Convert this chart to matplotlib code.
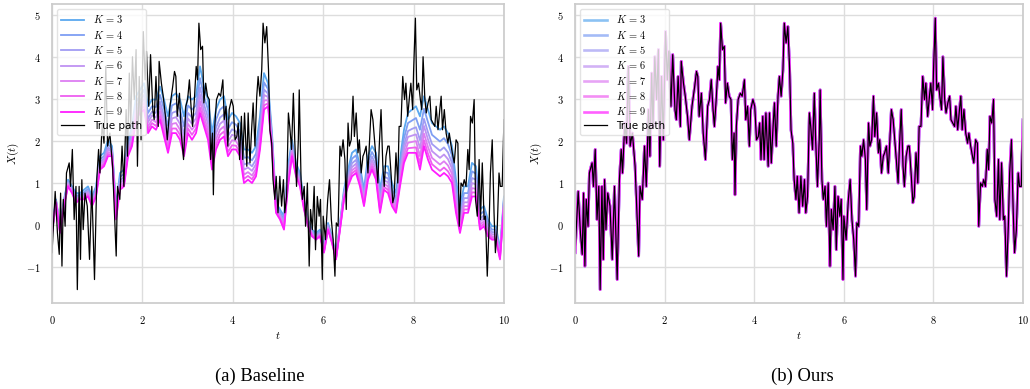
import numpy as np
import matplotlib.pyplot as plt

# true path (shared by both panels)
true_t = [0.00, 0.07, 0.12, 0.16, 0.19, 0.22, 0.25, 0.29, 0.32, 0.38, 0.41, 0.45, 0.49, 0.53, 0.56, 0.60,
          0.63, 0.66, 0.69, 0.73, 0.78, 0.83, 0.88, 0.94, 0.99, 1.03, 1.06, 1.11, 1.15, 1.19, 1.23, 1.28,
          1.34, 1.42, 1.45, 1.50, 1.55, 1.59, 1.64, 1.67, 1.71, 1.74, 1.78, 1.82, 1.86, 1.89, 1.93, 1.97,
          2.02, 2.06, 2.09, 2.14, 2.18, 2.23, 2.26, 2.30, 2.35, 2.37, 2.42, 2.46, 2.51, 2.55, 2.61, 2.67,
          2.71, 2.74, 2.77, 2.82, 2.86, 2.91, 2.96, 3.00, 3.04, 3.08, 3.11, 3.15, 3.19, 3.22, 3.25, 3.29,
          3.33, 3.36, 3.40, 3.44, 3.48, 3.51, 3.55, 3.57, 3.60, 3.64, 3.69, 3.73, 3.78, 3.81, 3.85, 3.89,
          3.92, 3.97, 4.01, 4.05, 4.09, 4.12, 4.15, 4.19, 4.22, 4.26, 4.31, 4.34, 4.38, 4.42, 4.45, 4.49,
          4.53, 4.56, 4.60, 4.64, 4.67, 4.71, 4.75, 4.79, 4.82, 4.86, 4.89, 4.93, 4.96, 5.00, 5.04, 5.08,
          5.12, 5.15, 5.19, 5.23, 5.26, 5.30, 5.34, 5.37, 5.41, 5.45, 5.47, 5.51, 5.54, 5.58, 5.61, 5.65,
          5.69, 5.72, 5.76, 5.80, 5.83, 5.87, 5.91, 5.94, 5.98, 6.00, 6.05, 6.10, 6.14, 6.18, 6.22, 6.26,
          6.29, 6.33, 6.37, 6.40, 6.44, 6.48, 6.51, 6.55, 6.58, 6.62, 6.66, 6.69, 6.73, 6.77, 6.80, 6.84,
          6.88, 6.91, 6.95, 6.99, 7.02, 7.06, 7.10, 7.13, 7.17, 7.21, 7.24, 7.28, 7.32, 7.35, 7.39, 7.43,
          7.46, 7.50, 7.54, 7.57, 7.61, 7.65, 7.68, 7.72, 7.76, 7.80, 7.83, 7.87, 7.91, 7.94, 7.98, 8.00,
          8.04, 8.07, 8.11, 8.15, 8.18, 8.21, 8.25, 8.28, 8.32, 8.36, 8.39, 8.43, 8.47, 8.50, 8.54, 8.58,
          8.61, 8.64, 8.68, 8.72, 8.76, 8.79, 8.83, 8.87, 8.90, 8.94, 8.98, 9.01, 9.05, 9.09, 9.12, 9.16,
          9.20, 9.23, 9.26, 9.30, 9.34, 9.37, 9.41, 9.45, 9.48, 9.52, 9.56, 9.59, 9.63, 9.67, 9.70, 9.74,
          9.78, 9.81, 9.85, 9.89, 9.92, 9.96, 10.0]
true_x = [-0.67, 0.79, -0.2, -0.71, 0.75, -0.99, 0.6, -0.04, 1.23, 1.47, 0.91, 1.79, 0.12, 0.91, -1.55, 0.91,
          -0.83, 1.07, -0.12, 0.75, 0.44, -0.83, 0.91, -1.31, 1.07, 1.79, 1.23, 2.42, 1.94, 3.77, 1.87, 2.18,
          1.39, -0.75, 0.91, 0.6, 1.87, 0.91, 2.74, 1.63, 3.61, 2.34, 4.0, 2.98, 4.17, 1.39, 3.53, 2.02,
          4.6, 3.45, 4.13, 2.82, 4.05, 2.74, 2.5, 3.53, 2.34, 3.89, 3.37, 3.06, 2.58, 2.02, 2.82, 3.29,
          3.65, 3.53, 2.58, 3.13, 2.18, 1.55, 2.82, 2.98, 3.45, 2.74, 2.34, 2.98, 3.77, 3.45, 4.8, 4.17,
          4.25, 2.9, 3.37, 3.06, 2.98, 1.55, 2.18, 0.71, 2.34, 2.98, 3.13, 3.06, 3.45, 2.5, 2.82, 1.87,
          2.74, 2.98, 2.82, 2.02, 2.1, 2.42, 1.55, 2.58, 1.55, 2.66, 1.39, 2.66, 1.47, 2.34, 2.9, 1.87,
          3.06, 3.53, 3.06, 3.69, 4.8, 4.33, 4.72, 3.69, 2.26, 1.94, 1.07, 0.6, 1.15, 0.28, 1.15, 0.44,
          1.07, 0.28, 0.67, 2.66, 2.34, 1.79, 3.13, 2.02, 0.91, 2.02, 3.21, 1.07, 0.6, 0.91, -0.04, 0.99,
          -0.99, 0.36, -0.12, 0.91, -0.6, 0.67, 0.2, 0.6, -1.31, 0.2, -0.36, 0.6, 1.07, 0.12, -0.36, -1.23,
          0.04, -0.04, 1.87, 1.63, 2.02, 1.55, 0.36, 2.42, 1.87, 2.02, 3.06, 2.1, 2.66, 1.71, 2.02, 1.23,
          1.63, 1.71, 1.87, 1.23, 1.87, 2.74, 2.5, 2.1, 1.55, 0.99, 1.87, 2.74, 1.39, 0.91, 1.63, 1.87,
          1.87, 1.23, 0.52, 0.67, 1.71, 0.99, 2.34, 2.34, 3.53, 2.98, 3.37, 2.58, 3.06, 3.37, 2.74, 3.65,
          4.92, 3.21, 3.37, 2.98, 2.74, 4.0, 2.98, 2.66, 2.9, 3.06, 2.5, 2.42, 2.34, 2.82, 2.26, 2.74,
          3.06, 2.26, 2.74, 2.18, 1.94, 2.18, 1.87, 1.63, 1.47, 2.02, 1.94, -0.04, 0.99, 0.91, 1.07, 0.91,
          1.79, 1.31, 2.58, 2.42, 2.98, 0.6, 0.2, 1.55, 0.12, 1.47, 0.12, 0.2, -1.23, -0.04, 1.23, 2.02,
          0.28, -0.67, -0.12, 1.23, 0.91, 0.91, 2.5]

# baseline estimates, one curve per K (evenly spaced in t)
base_k3 = [-0.04, 0.6, -0.04, 0.6, 1.07, 0.91, 0.75, 0.75, 0.83, 0.91,
           0.67, 0.91, 1.63, 1.71, 2.02, 1.87, 0.44, 1.23, 1.31, 2.02,
           2.34, 3.06, 3.21, 3.37, 2.82, 2.98, 2.98, 3.29, 2.98, 2.58,
           3.06, 3.13, 2.98, 2.58, 3.06, 2.98, 3.06, 3.77, 3.29, 2.98,
           2.18, 2.74, 2.98, 3.06, 2.5, 2.66, 2.58, 2.42, 1.79, 1.79,
           1.71, 1.87, 2.58, 3.61, 3.37, 2.18, 0.52, 0.36, 0.2, 1.39,
           2.02, 1.47, 1.23, 0.6, 0.12, -0.12, -0.2, -0.12, -0.52, 0.04,
           -0.28, -0.75, 0.04, 0.83, 1.31, 1.71, 1.79, 1.39, 0.83, 1.63,
           1.87, 1.71, 0.83, 1.39, 1.39, 0.99, 0.75, 1.55, 2.26, 2.66,
           2.74, 2.82, 2.58, 3.06, 2.74, 2.42, 2.34, 2.26, 2.34, 2.18,
           1.87, 1.07, 0.44, 0.91, 0.91, 1.47, 1.39, 0.36, 0.44, 0.12,
           -0.04, -0.04, -0.6, 0.67]
base_k4 = [-0.08, 0.58, -0.08, 0.56, 1.03, 0.87, 0.69, 0.71, 0.77, 0.85,
           0.61, 0.85, 1.55, 1.63, 1.92, 1.81, 0.36, 1.13, 1.21, 1.92,
           2.22, 2.92, 3.07, 3.21, 2.66, 2.82, 2.80, 3.09, 2.76, 2.36,
           2.84, 2.89, 2.74, 2.34, 2.84, 2.74, 2.84, 3.49, 3.05, 2.74,
           1.96, 2.50, 2.74, 2.82, 2.28, 2.44, 2.38, 2.22, 1.59, 1.61,
           1.53, 1.69, 2.38, 3.39, 3.23, 2.08, 0.46, 0.30, 0.12, 1.27,
           1.92, 1.39, 1.15, 0.54, 0.08, -0.16, -0.24, -0.16, -0.56, 0.00,
           -0.32, -0.77, 0.00, 0.77, 1.21, 1.57, 1.65, 1.27, 0.73, 1.49,
           1.73, 1.55, 0.69, 1.25, 1.23, 0.85, 0.63, 1.39, 2.06, 2.42,
           2.48, 2.54, 2.26, 2.76, 2.44, 2.14, 2.06, 1.98, 2.06, 1.92,
           1.65, 0.87, 0.28, 0.75, 0.75, 1.27, 1.21, 0.24, 0.32, 0.02,
           -0.12, -0.12, -0.66, 0.61]
base_k5 = [-0.11, 0.56, -0.11, 0.53, 1.00, 0.84, 0.65, 0.68, 0.73, 0.80,
           0.57, 0.80, 1.49, 1.57, 1.84, 1.76, 0.30, 1.05, 1.13, 1.84,
           2.13, 2.81, 2.96, 3.09, 2.53, 2.69, 2.66, 2.93, 2.58, 2.19,
           2.66, 2.70, 2.55, 2.15, 2.66, 2.55, 2.66, 3.27, 2.86, 2.55,
           1.79, 2.31, 2.55, 2.63, 2.11, 2.27, 2.22, 2.06, 1.43, 1.47,
           1.39, 1.55, 2.22, 3.22, 3.12, 2.00, 0.41, 0.25, 0.06, 1.17,
           1.84, 1.33, 1.09, 0.49, 0.05, -0.19, -0.27, -0.19, -0.59, -0.03,
           -0.35, -0.79, -0.03, 0.73, 1.13, 1.46, 1.54, 1.17, 0.65, 1.38,
           1.62, 1.42, 0.58, 1.14, 1.10, 0.74, 0.54, 1.26, 1.90, 2.23,
           2.28, 2.32, 2.01, 2.52, 2.20, 1.92, 1.84, 1.76, 1.84, 1.72,
           1.47, 0.71, 0.15, 0.63, 0.63, 1.11, 1.07, 0.14, 0.22, -0.06,
           -0.18, -0.18, -0.70, 0.57]
base_k6 = [-0.14, 0.55, -0.14, 0.50, 0.97, 0.81, 0.61, 0.66, 0.69, 0.77,
           0.53, 0.77, 1.44, 1.52, 1.79, 1.73, 0.25, 0.99, 1.07, 1.79,
           2.06, 2.72, 2.88, 2.99, 2.44, 2.60, 2.55, 2.82, 2.45, 2.06,
           2.53, 2.56, 2.40, 2.01, 2.53, 2.40, 2.53, 3.10, 2.72, 2.40,
           1.66, 2.17, 2.40, 2.48, 1.98, 2.14, 2.11, 1.95, 1.31, 1.36,
           1.28, 1.44, 2.11, 3.09, 3.04, 1.95, 0.38, 0.22, 0.01, 1.10,
           1.79, 1.28, 1.04, 0.46, 0.02, -0.22, -0.30, -0.22, -0.61, -0.06,
           -0.38, -0.80, -0.06, 0.69, 1.07, 1.37, 1.45, 1.10, 0.60, 1.29,
           1.53, 1.33, 0.50, 1.05, 1.01, 0.66, 0.47, 1.17, 1.79, 2.09,
           2.12, 2.15, 1.82, 2.35, 2.03, 1.75, 1.67, 1.59, 1.67, 1.56,
           1.34, 0.60, 0.06, 0.53, 0.53, 0.99, 0.96, 0.07, 0.15, -0.12,
           -0.23, -0.23, -0.74, 0.53]
base_k7 = [-0.16, 0.54, -0.16, 0.48, 0.95, 0.79, 0.58, 0.64, 0.66, 0.73,
           0.50, 0.73, 1.39, 1.47, 1.73, 1.69, 0.20, 0.93, 1.01, 1.73,
           1.99, 2.64, 2.80, 2.90, 2.34, 2.50, 2.44, 2.70, 2.32, 1.93,
           2.40, 2.42, 2.26, 1.87, 2.40, 2.26, 2.40, 2.94, 2.58, 2.26,
           1.53, 2.03, 2.26, 2.34, 1.85, 2.01, 1.99, 1.83, 1.19, 1.25,
           1.17, 1.33, 1.99, 2.96, 2.96, 1.89, 0.34, 0.18, -0.04, 1.03,
           1.73, 1.23, 0.99, 0.42, 0.00, -0.24, -0.32, -0.24, -0.63, -0.08,
           -0.40, -0.81, -0.08, 0.66, 1.01, 1.29, 1.37, 1.03, 0.54, 1.21,
           1.45, 1.23, 0.42, 0.97, 0.91, 0.58, 0.40, 1.07, 1.67, 1.95,
           1.97, 1.99, 1.63, 2.17, 1.85, 1.59, 1.51, 1.43, 1.51, 1.41,
           1.21, 0.48, -0.04, 0.44, 0.44, 0.87, 0.85, 0.00, 0.08, -0.18,
           -0.28, -0.28, -0.77, 0.50]
base_k8 = [-0.18, 0.53, -0.18, 0.46, 0.93, 0.77, 0.55, 0.62, 0.63, 0.70,
           0.47, 0.70, 1.35, 1.43, 1.68, 1.66, 0.16, 0.88, 0.96, 1.68,
           1.93, 2.57, 2.73, 2.82, 2.26, 2.42, 2.35, 2.59, 2.21, 1.81,
           2.29, 2.29, 2.14, 1.74, 2.29, 2.14, 2.29, 2.79, 2.45, 2.14,
           1.41, 1.90, 2.14, 2.22, 1.73, 1.89, 1.88, 1.72, 1.09, 1.16,
           1.08, 1.24, 1.88, 2.84, 2.89, 1.84, 0.31, 0.15, -0.08, 0.97,
           1.68, 1.19, 0.95, 0.39, -0.02, -0.26, -0.34, -0.26, -0.65, -0.10,
           -0.42, -0.82, -0.10, 0.63, 0.96, 1.22, 1.30, 0.97, 0.49, 1.14,
           1.38, 1.15, 0.35, 0.90, 0.83, 0.51, 0.34, 0.99, 1.56, 1.82,
           1.83, 1.84, 1.46, 2.01, 1.69, 1.44, 1.36, 1.28, 1.36, 1.27,
           1.10, 0.37, -0.12, 0.36, 0.36, 0.77, 0.76, -0.06, 0.02, -0.23,
           -0.32, -0.32, -0.80, 0.47]
base_k9 = [-0.2, 0.52, -0.2, 0.44, 0.91, 0.75, 0.52, 0.6, 0.6, 0.67,
           0.44, 0.67, 1.31, 1.39, 1.63, 1.63, 0.12, 0.83, 0.91, 1.63,
           1.87, 2.5, 2.66, 2.74, 2.18, 2.34, 2.26, 2.5, 2.1, 1.71,
           2.18, 2.18, 2.02, 1.63, 2.18, 2.02, 2.18, 2.66, 2.34, 2.02,
           1.31, 1.79, 2.02, 2.1, 1.63, 1.79, 1.79, 1.63, 0.99, 1.07,
           0.99, 1.15, 1.79, 2.74, 2.82, 1.79, 0.28, 0.12, -0.12, 0.91,
           1.63, 1.15, 0.91, 0.36, -0.04, -0.28, -0.36, -0.28, -0.67, -0.12,
           -0.44, -0.83, -0.12, 0.6, 0.91, 1.15, 1.23, 0.91, 0.44, 1.07,
           1.31, 1.07, 0.28, 0.83, 0.75, 0.44, 0.28, 0.91, 1.47, 1.71,
           1.71, 1.71, 1.31, 1.87, 1.55, 1.31, 1.23, 1.15, 1.23, 1.15,
           0.99, 0.28, -0.2, 0.28, 0.28, 0.67, 0.67, -0.12, -0.04, -0.28,
           -0.36, -0.36, -0.83, 0.44]

k_values = [3, 4, 5, 6, 7, 8, 9]
k_colors = ['#5aa8ef', '#7e9ef3', '#a19cf3', '#bf92f2', '#dd7ef2', '#ee5ef0', '#ff1cff']
baseline = [base_k3, base_k4, base_k5, base_k6, base_k7, base_k8, base_k9]

x_ticks = [0, 2, 4, 6, 8, 10]
y_ticks = [-1, 0, 1, 2, 3, 4, 5]
captions = ['(a) Baseline', '(b) Ours']

plt.rcParams['mathtext.fontset'] = 'cm'
plt.rcParams['font.family'] = 'DejaVu Sans'

fig = plt.figure(figsize=(10.3, 3.89), dpi=100)
ax_a = fig.add_axes([0.0505, 0.221, 0.4388, 0.769])
ax_b = fig.add_axes([0.5583, 0.221, 0.4350, 0.769])

base_t = np.linspace(0, 10, len(base_k3))
for k, c, curve in zip(k_values, k_colors, baseline):
    ax_a.plot(base_t, curve, color=c, lw=1.3, label=r'$K\,=\,%d$' % k)
ax_a.plot(true_t, true_x, color='black', lw=0.9, label='True path')

# our estimates sit on top of the true path
for k, c in zip(k_values, k_colors):
    ax_b.plot(true_t, true_x, color=c, lw=1.9, alpha=0.7, label=r'$K\,=\,%d$' % k)
ax_b.plot(true_t, true_x, color='black', lw=0.9, label='True path')

for ax, cap, cx in zip([ax_a, ax_b], captions, [0.252, 0.779]):
    ax.set_xlim(0, 10)
    ax.set_ylim(-1.87, 5.26)
    ax.set_xticks(x_ticks)
    ax.set_xticklabels(['$%d$' % v for v in x_ticks], fontsize=7.5)
    ax.set_yticks(y_ticks)
    ax.set_yticklabels(['$%d$' % v for v in y_ticks], fontsize=7.5)
    ax.tick_params(length=0, pad=8)
    ax.grid(True, color='#dddddd', lw=1.0)
    ax.set_axisbelow(True)
    for s in ax.spines.values():
        s.set_color('#cccccc')
        s.set_linewidth(1.25)
    ax.set_xlabel('$t$', fontsize=8, labelpad=3)
    ax.set_ylabel('$X(t)$', fontsize=8, labelpad=4)
    ax.legend(loc='upper left', fontsize=7.5, framealpha=0.8, edgecolor='#dddddd',
              labelspacing=0.32, handlelength=2.2)
    fig.text(cx, 0.033, cap, ha='center', va='center', fontsize=13.4, family='Liberation Serif')

fig.savefig('out.png', dpi=100)
